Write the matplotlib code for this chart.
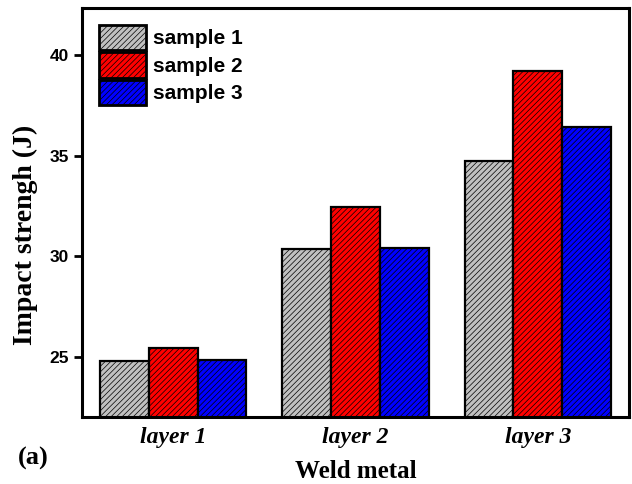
import matplotlib.pyplot as plt
import numpy as np

layers = ["layer 1", "layer 2", "layer 3"]
sample1 = [24.77, 30.35, 34.75]
sample2 = [25.43, 32.44, 39.22]
sample3 = [24.84, 30.40, 36.41]
names = ["sample 1", "sample 2", "sample 3"]
colors = ["#c0c0c0", "#ff0000", "#0000ff"]

plt.rcParams['hatch.linewidth'] = 0.5
plt.rcParams['hatch.color'] = 'black'

fig = plt.figure(figsize=(6.32, 4.84), dpi=100)
ax = fig.add_axes([82 / 632, 1 - 417 / 484, 547 / 632, 409 / 484])

x = np.arange(1, len(layers) + 1)
w = 0.268
for k, (vals, name, c) in enumerate(zip([sample1, sample2, sample3], names, colors)):
	ax.bar(x + (k - 1) * w, vals, width=w, color=c, edgecolor='black',
		linewidth=1.6, hatch='//////', label=name, zorder=2)

ax.set_xlim(0.5, 3.5)
ax.set_ylim(22.0, 42.35)
ax.set_xticks(x)
ax.set_xticklabels(layers, fontfamily='Liberation Serif', fontstyle='italic',
	fontweight='bold', fontsize=17)
ax.tick_params(axis='x', length=0, pad=7)
ax.set_yticks([25, 30, 35, 40])
ax.set_yticklabels(["25", "30", "35", "40"], fontfamily='Liberation Sans',
	fontweight='bold', fontsize=12.5)
ax.tick_params(axis='y', direction='out', length=6, width=2)
for s in ax.spines.values():
	s.set_linewidth(2.2)

ax.set_ylabel("Impact strengh (J)", fontfamily='Liberation Serif',
	fontweight='bold', fontsize=20)
ax.yaxis.set_label_coords(-0.08, 0.445)
ax.set_xlabel("Weld metal", fontfamily='Liberation Serif',
	fontweight='bold', fontsize=18, labelpad=9)
fig.text(18 / 632, 1 - 458 / 484, "(a)", fontfamily='Liberation Serif',
	fontweight='bold', fontsize=19, va='center')

leg = ax.legend(loc='upper left', frameon=False,
	prop={'family': 'Liberation Sans', 'weight': 'bold', 'size': 15},
	handlelength=2.25, handleheight=1.5, labelspacing=0.1,
	handletextpad=0.35, borderaxespad=0.4, bbox_to_anchor=(0.0, 1.0))
for h in leg.legend_handles:
	h.set_linewidth(2.0)

fig.savefig("out.png", dpi=100)
